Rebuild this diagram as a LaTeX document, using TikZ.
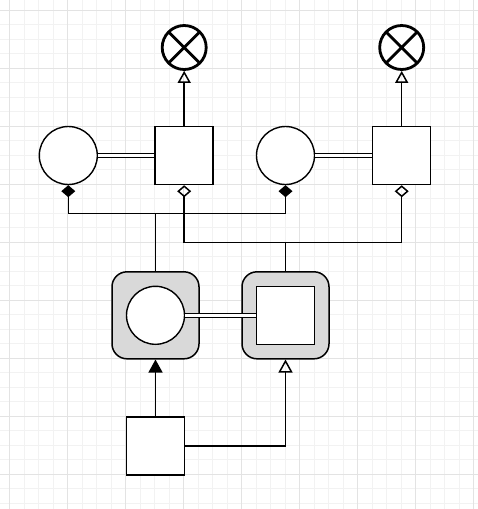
\documentclass[tikz,border=0pt]{standalone}
\usetikzlibrary{arrows.meta}
\tikzset{
	box/.style={draw, line width=1.5pt, fill=white, minimum size=58pt, inner sep=0pt},
	ring/.style={draw, circle, line width=1.4pt, fill=white, minimum size=58pt, inner sep=0pt},
	sink/.style={draw, circle, line width=2.8pt, fill=white, minimum size=44pt, inner sep=0pt,
		path picture={\draw [line width=2.8pt] (path picture bounding box.north west) to (path picture bounding box.south east) (path picture bounding box.north east) to (path picture bounding box.south west);}},
	holder/.style={draw, rounded corners=15pt, line width=1.5pt, fill=black!15, minimum size=87pt, inner sep=0pt},
	link/.style={line width=1.5pt},
	bond/.style={double, double distance=3pt, line width=1.1pt},
}
\begin{document}
\begin{tikzpicture}[x=1pt, y=-1pt]
		\useasboundingbox (0, 0) rectangle (478, 509);
		\fill [white] (0, 0) rectangle (478, 509);
		\foreach \i in {0,...,32} \draw [black!5, line width=0.6pt] ({9.5+14.5*\i}, 0) to ({9.5+14.5*\i}, 509);
		\foreach \i in {0,...,34} \draw [black!5, line width=0.6pt] (0, {10+14.5*\i}) to (478, {10+14.5*\i});
		\foreach \i in {0,...,8} \draw [black!11, line width=0.8pt] ({9.5+58*\i}, 0) to ({9.5+58*\i}, 509);
		\foreach \i in {0,...,8} \draw [black!11, line width=0.8pt] (0, {10+58*\i}) to (478, {10+58*\i});

		\node [ring] (0) at (68.3, 155.5) {};
		\node [box] (1) at (184.2, 155.5) {};
		\node [sink] (2) at (184.2, 47.5) {};
		\node [ring] (3) at (285.5, 155.5) {};
		\node [box] (4) at (401.7, 155.5) {};
		\node [sink] (5) at (401.7, 47.5) {};
		\node [holder] (6) at (155.5, 315.3) {};
		\node [ring] (7) at (155.5, 315.3) {};
		\node [holder] (8) at (285.5, 315.3) {};
		\node [box] (9) at (285.5, 315.3) {};
		\node [box] (10) at (155.5, 445.8) {};
		\coordinate (11) at (155.5, 213.3);
		\coordinate (12) at (285.5, 242.7);

		\draw [link, -{Triangle[open, length=12pt, width=13pt]}] (1) to (2);
		\draw [link, -{Triangle[open, length=12pt, width=13pt]}] (4) to (5);
		\draw [bond] (0) to (1);
		\draw [bond] (3) to (4);
		\draw [bond] (7) to (9);
		\draw [link, {Diamond[length=12pt, width=14pt]}-{Diamond[length=12pt, width=14pt]}] (0.south) |- (11) -| (3.south);
		\draw [link, {Diamond[open, length=12pt, width=14pt]}-{Diamond[open, length=12pt, width=14pt]}] (1.south) |- (12) -| (4.south);
		\draw [link] (11) to (6.north);
		\draw [link] (12) to (8.north);
		\draw [link, -{Triangle[length=13pt, width=14pt]}] (10.north) to (6.south);
		\draw [link, -{Triangle[open, length=13pt, width=14pt]}] (10.east) -| (8.south);
\end{tikzpicture}
\end{document}
